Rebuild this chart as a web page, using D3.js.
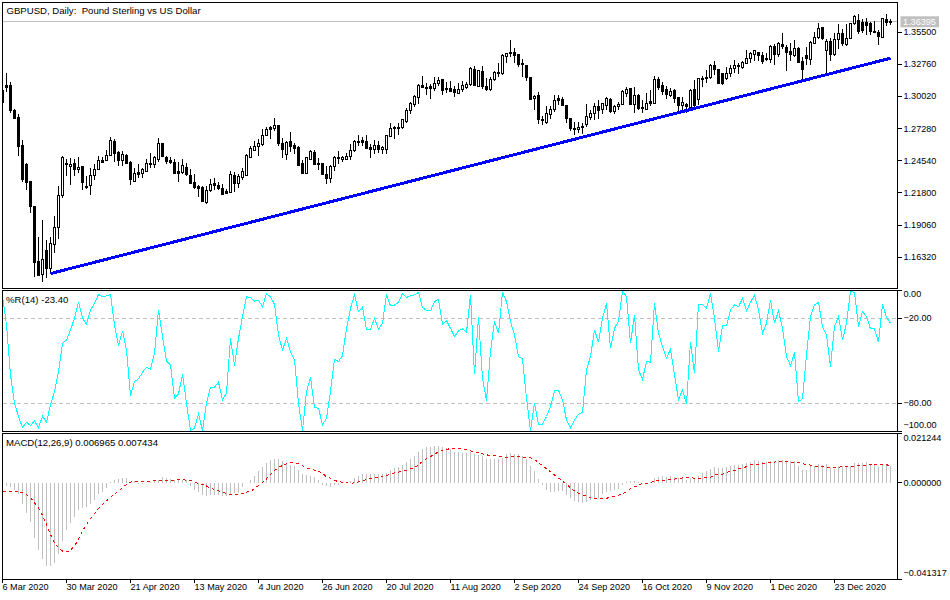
<!DOCTYPE html>
<html>
<head>
<meta charset="utf-8">
<script src="https://cdn.jsdelivr.net/npm/d3@7"></script>
<style>
	html, body { margin: 0; padding: 0; background: #fff; }
	text { font-family: "Liberation Sans", sans-serif; font-size: 9.6px; fill: #000; }
	.axis text { font-size: 9.1px; }
</style>
</head>
<body>
<div id="chart"></div>
<script>
const opens = [1.3053,1.3093,1.3093,1.2883,1.2826,1.2582,1.2420,1.2275,1.2060,1.1594,
	1.1480,1.1685,1.1537,1.1741,1.1889,1.2162,1.2429,1.2409,1.2432,1.2380,
	1.2403,1.2238,1.2241,1.2332,1.2383,1.2454,1.2457,1.2503,1.2616,1.2522,
	1.2457,1.2497,1.2437,1.2281,1.2352,1.2349,1.2366,1.2434,1.2423,1.2463,
	1.2599,1.2485,1.2454,1.2440,1.2361,1.2355,1.2400,1.2332,1.2270,1.2233,
	1.2230,1.2094,1.2202,1.2258,1.2247,1.2221,1.2190,1.2184,1.2332,1.2258,
	1.2315,1.2329,1.2485,1.2545,1.2576,1.2591,1.2673,1.2735,1.2730,1.2752,
	1.2605,1.2508,1.2616,1.2582,1.2565,1.2432,1.2343,1.2463,1.2522,1.2429,
	1.2428,1.2335,1.2306,1.2408,1.2479,1.2468,1.2468,1.2491,1.2542,1.2616,
	1.2624,1.2621,1.2565,1.2553,1.2587,1.2553,1.2553,1.2661,1.2741,1.2741,
	1.2741,1.2786,1.2886,1.2934,1.2996,1.3099,1.3082,1.3084,1.3070,1.3116,
	1.3144,1.3073,1.3070,1.3059,1.3030,1.3064,1.3079,1.3101,1.3235,1.3087,
	1.3218,1.3084,1.3062,1.3144,1.3209,1.3201,1.3343,1.3380,1.3380,1.3357,
	1.3280,1.3263,1.3167,1.2985,1.3008,1.2809,1.2778,1.2851,1.2891,1.2982,
	1.2979,1.2928,1.2815,1.2732,1.2721,1.2749,1.2761,1.2826,1.2860,1.2920,
	1.2888,1.2925,1.2979,1.2874,1.2917,1.2934,1.3028,1.3067,1.2934,1.3013,
	1.2912,1.2894,1.2957,1.2946,1.3150,1.3093,1.3059,1.3008,1.3053,1.2991,
	1.2923,1.2934,1.2912,1.3059,1.2980,1.3150,1.3167,1.3164,1.3269,1.3230,
	1.3196,1.3156,1.3196,1.3241,1.3269,1.3252,1.3286,1.3326,1.3360,1.3377,
	1.3355,1.3326,1.3320,1.3428,1.3357,1.3443,1.3417,1.3386,1.3355,1.3409,
	1.3301,1.3349,1.3320,1.3457,1.3502,1.3587,1.3394,1.3468,1.3357,1.3485,
	1.3542,1.3443,1.3497,1.3627,1.3650,1.3633,1.3633,1.3622,1.3559,1.3545,
	1.3508,1.3661,1.3641];
const highs = [1.3059,1.3201,1.3122,1.2894,1.2855,1.2633,1.2434,1.2281,1.2065,1.1804,
	1.1946,1.1781,1.1804,1.1986,1.2241,1.2497,1.2468,1.2477,1.2468,1.2485,
	1.2412,1.2326,1.2389,1.2429,1.2491,1.2485,1.2548,1.2656,1.2639,1.2534,
	1.2534,1.2508,1.2449,1.2395,1.2429,1.2392,1.2468,1.2520,1.2497,1.2650,
	1.2605,1.2497,1.2485,1.2468,1.2440,1.2468,1.2434,1.2383,1.2343,1.2247,
	1.2241,1.2236,1.2298,1.2304,1.2270,1.2258,1.2213,1.2366,1.2355,1.2338,
	1.2395,1.2514,1.2582,1.2622,1.2639,1.2724,1.2741,1.2747,1.2821,1.2758,
	1.2647,1.2622,1.2696,1.2605,1.2576,1.2463,1.2485,1.2542,1.2548,1.2474,
	1.2437,1.2406,1.2414,1.2494,1.2536,1.2499,1.2519,1.2599,1.2633,1.2673,
	1.2661,1.2673,1.2599,1.2633,1.2627,1.2582,1.2667,1.2775,1.2752,1.2775,
	1.2809,1.2900,1.2957,1.3016,1.3110,1.3178,1.3116,1.3110,1.3167,1.3172,
	1.3150,1.3130,1.3133,1.3093,1.3121,1.3138,1.3127,1.3258,1.3263,1.3229,
	1.3263,1.3158,1.3167,1.3218,1.3286,1.3366,1.3377,1.3485,1.3414,1.3366,
	1.3326,1.3275,1.3172,1.3016,1.3042,1.2832,1.2922,1.2922,1.3013,1.3013,
	1.3002,1.2931,1.2820,1.2786,1.2786,1.2780,1.2940,1.2883,1.2951,1.2974,
	1.2951,1.3002,1.2988,1.2934,1.2957,1.3059,1.3087,1.3076,1.3081,1.3025,
	1.2974,1.3031,1.3059,1.3178,1.3167,1.3122,1.3088,1.3071,1.3065,1.2997,
	1.2997,1.2946,1.3065,1.3144,1.3159,1.3173,1.3230,1.3281,1.3309,1.3235,
	1.3201,1.3258,1.3275,1.3315,1.3292,1.3309,1.3400,1.3386,1.3400,1.3386,
	1.3386,1.3377,1.3443,1.3451,1.3471,1.3548,1.3443,1.3457,1.3485,1.3428,
	1.3337,1.3428,1.3474,1.3556,1.3633,1.3593,1.3491,1.3499,1.3542,1.3622,
	1.3576,1.3622,1.3633,1.3698,1.3707,1.3667,1.3670,1.3641,1.3650,1.3570,
	1.3670,1.3707,1.3661];
const lows = [1.2951,1.3037,1.2860,1.2809,1.2491,1.2270,1.2207,1.2008,1.1463,1.1474,
	1.1418,1.1455,1.1497,1.1668,1.1787,1.2133,1.2321,1.2247,1.2326,1.2349,
	1.2207,1.2213,1.2165,1.2292,1.2378,1.2434,1.2449,1.2497,1.2440,1.2412,
	1.2412,1.2429,1.2250,1.2278,1.2304,1.2304,1.2361,1.2395,1.2392,1.2440,
	1.2485,1.2429,1.2429,1.2338,1.2270,1.2343,1.2321,1.2253,1.2213,1.2145,
	1.2105,1.2082,1.2190,1.2202,1.2207,1.2162,1.2167,1.2184,1.2184,1.2224,
	1.2292,1.2326,1.2485,1.2537,1.2497,1.2576,1.2662,1.2639,1.2707,1.2582,
	1.2474,1.2457,1.2531,1.2514,1.2406,1.2343,1.2338,1.2457,1.2415,1.2378,
	1.2329,1.2255,1.2261,1.2363,1.2425,1.2443,1.2462,1.2462,1.2531,1.2576,
	1.2576,1.2559,1.2479,1.2514,1.2519,1.2514,1.2514,1.2656,1.2644,1.2675,
	1.2729,1.2780,1.2849,1.2911,1.2940,1.3073,1.3013,1.2985,1.3053,1.3093,
	1.3013,1.3030,1.3042,1.3002,1.3025,1.3042,1.3070,1.3093,1.3093,1.3082,
	1.3064,1.3053,1.3053,1.3133,1.3167,1.3184,1.3292,1.3343,1.3286,1.3258,
	1.3167,1.3138,1.2979,1.2883,1.2769,1.2763,1.2769,1.2809,1.2866,1.2928,
	1.2917,1.2775,1.2707,1.2678,1.2690,1.2684,1.2741,1.2803,1.2798,1.2809,
	1.2854,1.2888,1.2860,1.2854,1.2888,1.2934,1.3002,1.2928,1.2860,1.2888,
	1.2860,1.2889,1.2917,1.2940,1.3059,1.3017,1.2985,1.2997,1.2946,1.2875,
	1.2889,1.2860,1.2889,1.2912,1.2931,1.3082,1.3116,1.3150,1.3187,1.3105,
	1.3102,1.3144,1.3167,1.3201,1.3196,1.3235,1.3281,1.3292,1.3301,1.3309,
	1.3281,1.3301,1.3286,1.3272,1.3343,1.3406,1.3224,1.3301,1.3343,1.3286,
	1.3150,1.3272,1.3272,1.3451,1.3491,1.3480,1.3196,1.3301,1.3349,1.3406,
	1.3434,1.3434,1.3491,1.3613,1.3536,1.3542,1.3531,1.3531,1.3542,1.3445,
	1.3505,1.3604,1.3610];
const closes = [1.2951,1.3079,1.2883,1.2815,1.2576,1.2292,1.2270,1.2060,1.1588,1.1474,
	1.1611,1.1537,1.1747,1.1889,1.2162,1.2480,1.2423,1.2426,1.2380,1.2400,
	1.2270,1.2224,1.2332,1.2383,1.2460,1.2440,1.2503,1.2630,1.2517,1.2457,
	1.2511,1.2429,1.2292,1.2343,1.2338,1.2378,1.2434,1.2423,1.2480,1.2599,
	1.2491,1.2451,1.2440,1.2343,1.2349,1.2417,1.2338,1.2261,1.2224,1.2219,
	1.2105,1.2204,1.2255,1.2241,1.2219,1.2167,1.2176,1.2341,1.2258,1.2321,
	1.2361,1.2497,1.2556,1.2579,1.2599,1.2673,1.2724,1.2724,1.2752,1.2599,
	1.2548,1.2608,1.2574,1.2559,1.2417,1.2349,1.2480,1.2531,1.2423,1.2420,
	1.2335,1.2306,1.2408,1.2479,1.2474,1.2485,1.2494,1.2545,1.2616,1.2610,
	1.2613,1.2559,1.2553,1.2587,1.2553,1.2570,1.2667,1.2732,1.2729,1.2732,
	1.2803,1.2886,1.2940,1.2999,1.3099,1.3082,1.3073,1.3073,1.3116,1.3141,
	1.3053,1.3062,1.3047,1.3036,1.3064,1.3093,1.3107,1.3243,1.3099,1.3221,
	1.3087,1.3064,1.3150,1.3209,1.3198,1.3354,1.3371,1.3366,1.3354,1.3275,
	1.3275,1.3161,1.2979,1.3005,1.2803,1.2798,1.2854,1.2894,1.2971,1.2968,
	1.2925,1.2815,1.2729,1.2721,1.2741,1.2738,1.2834,1.2860,1.2920,1.2883,
	1.2940,1.2982,1.2871,1.2920,1.2937,1.3047,1.3064,1.2934,1.3013,1.2900,
	1.2900,1.2946,1.2946,1.3150,1.3082,1.3045,1.3019,1.3048,1.2985,1.2923,
	1.2954,1.2917,1.3053,1.2929,1.3153,1.3156,1.3156,1.3269,1.3230,1.3110,
	1.3110,1.3201,1.3244,1.3269,1.3258,1.3292,1.3329,1.3366,1.3391,1.3349,
	1.3303,1.3315,1.3428,1.3357,1.3457,1.3428,1.3377,1.3357,1.3411,1.3292,
	1.3230,1.3326,1.3462,1.3508,1.3585,1.3499,1.3468,1.3360,1.3491,1.3536,
	1.3451,1.3499,1.3627,1.3684,1.3559,1.3565,1.3607,1.3553,1.3553,1.3514,
	1.3664,1.3633,1.36395];

const williamsR = [-4.7,-24.7,-60,-80,-89.4,-97.2,-93.4,-95.8,-92.5,-97.2,
	-89.2,-93.4,-81.2,-71.8,-57.6,-37.6,-35.3,-28.2,-20,-8.7,
	-20,-24.2,-14.1,-9.4,-3.1,-4.9,-4.2,-3.1,-24.7,-39.5,
	-28.9,-42.4,-74.6,-64.7,-62.8,-58.1,-54.6,-56,-44.7,-14.1,
	-32.9,-50.1,-52.9,-76.5,-73.6,-59.5,-80,-99.3,-97.6,-87.8,
	-99.3,-80,-68.9,-68.7,-65.2,-77.6,-72.9,-34.1,-53.4,-34.1,
	-18.8,-4.7,-5.4,-7.8,-7.3,-11.8,-2.4,-4.9,-10.1,-31.8,
	-42.4,-34.1,-43.5,-49.4,-80,-99.3,-71.8,-61.9,-83.1,-83.5,
	-95.3,-90.6,-71.8,-48.9,-50.6,-46.4,-27.1,-12.9,-3.5,-15.3,
	-12.2,-27.8,-27.8,-20,-27.8,-23.5,-3.1,-11.3,-10.6,-8.7,
	-2.4,-5.2,-4.2,-3.5,-1.6,-12.5,-14.4,-14.8,-8.2,-6.6,
	-24.2,-21.6,-27.1,-32.9,-28.9,-27.5,-29.9,-3.5,-59.5,-19.3,
	-62.4,-78.1,-43.5,-21.9,-30.6,-1.6,-8.2,-22.4,-31.8,-47.1,
	-48.7,-76.5,-99.3,-80,-95.3,-94.8,-89.4,-82.4,-71.3,-70.8,
	-77.6,-91.8,-97.2,-91.8,-87.8,-86.4,-56.5,-47.1,-28.2,-36.9,
	-20,-9.4,-41.2,-27.1,-21.9,-0.7,-4.7,-37.6,-17.6,-56.5,
	-63.1,-50.6,-51.1,-9.4,-30.6,-40,-48.2,-41.9,-60,-77.6,
	-70.6,-80.5,-36.9,-58.8,-9.9,-10.1,-12.9,-2.4,-20,-43.5,
	-25.2,-25.2,-14.1,-10.6,-11.8,-5.9,-14.8,-8.7,-3.5,-14.1,
	-30.6,-23.5,-7.1,-23.5,-14.8,-27.1,-47.1,-53.4,-44.2,-78.8,
	-76.9,-45.9,-18.8,-10.6,-8.7,-25.9,-31.8,-54.1,-25.9,-18.8,
	-35.3,-23.5,-1.2,-1.6,-25.9,-15.3,-18.8,-27.5,-27.5,-36.9,
	-10.1,-19.3,-23.4];
const macdHist = [-.0010,-.0014,-.0017,-.0029,-.0050,-.0093,-.0129,-.0169,-.0239,-.0290,
	-.0329,-.0358,-.0358,-.0346,-.0307,-.0250,-.0203,-.0172,-.0146,-.0117,
	-.0107,-.0103,-.0089,-.0072,-.0050,-.0040,-.0021,.0003,.0014,.0017,
	.0021,.0021,.0003,.0007,-.0004,-.0004,-.0003,.0003,.0011,.0014,
	.0026,.0020,.0017,.0014,.0014,.0014,.0011,-.0014,-.0031,-.0040,
	-.0054,-.0057,-.0054,-.0054,-.0054,-.0057,-.0057,-.0050,-.0046,-.0043,
	-.0017,-.0003,.0014,.0031,.0049,.0066,.0086,.0097,.0104,.0100,
	.0093,.0086,.0077,.0072,.0057,.0039,.0034,.0031,.0024,.0014,
	-.0010,-.0014,-.0019,-.0011,-.0009,-.0003,0,.0009,.0019,.0027,
	.0037,.0037,.0037,.0037,.0036,.0036,.0043,.0054,.0063,.0067,
	.0076,.0089,.0103,.0114,.0132,.0146,.0152,.0152,.0157,.0160,
	.0154,.0149,.0146,.0134,.0132,.0126,.0129,.0132,.0123,.0120,
	.0114,.0100,.0100,.0100,.0100,.0107,.0122,.0126,.0123,.0123,
	.0117,.0100,.0072,.0049,.0017,-.0011,-.0031,-.0040,-.0040,-.0037,
	-.0036,-.0054,-.0066,-.0080,-.0083,-.0086,-.0083,-.0074,-.0069,-.0064,
	-.0050,-.0040,-.0037,-.0031,-.0026,-.0011,.0003,.0006,.0007,.0004,
	0,0,.0003,.0019,.0026,.0031,.0026,.0031,.0026,.0021,
	.0019,.0014,.0019,.0017,.0029,.0040,.0049,.0060,.0067,.0063,
	.0063,.0069,.0072,.0076,.0077,.0082,.0086,.0090,.0097,.0094,
	.0090,.0089,.0092,.0092,.0097,.0096,.0092,.0092,.0092,.0074,
	.0054,.0057,.0074,.0074,.0080,.0077,.0080,.0063,.0060,.0072,
	.0072,.0069,.0072,.0086,.0086,.0086,.0089,.0080,.0080,.0069,
	.0077,.0079,.0070];
const macdSignal = [-.0036,-.0036,-.0036,-.0036,-.0036,-.0043,-.0051,-.0064,-.0086,-.0109,
	-.0140,-.0179,-.0222,-.0257,-.0279,-.0293,-.0297,-.0289,-.0272,-.0243,
	-.0207,-.0179,-.0154,-.0132,-.0110,-.0093,-.0077,-.0063,-.0049,-.0034,
	-.0021,-.0007,.0003,.0006,.0007,.0007,.0007,.0007,.0009,.0010,
	.0010,.0011,.0011,.0011,.0013,.0013,.0011,.0009,.0004,-.0003,
	-.0007,-.0014,-.0023,-.0029,-.0034,-.0040,-.0047,-.0051,-.0051,-.0051,
	-.0047,-.0040,-.0037,-.0026,-.0011,0,.0017,.0036,.0053,.0066,
	.0074,.0082,.0086,.0086,.0083,.0074,.0064,.0060,.0054,.0049,
	.0041,.0026,.0020,.0011,.0004,.0003,0,-.0003,0,.0004,
	.0007,.0014,.0019,.0020,.0024,.0029,.0031,.0037,.0043,.0046,
	.0051,.0054,.0060,.0066,.0077,.0092,.0103,.0112,.0123,.0133,
	.0139,.0143,.0147,.0149,.0147,.0146,.0143,.0137,.0134,.0129,
	.0124,.0120,.0117,.0116,.0114,.0112,.0110,.0112,.0112,.0112,
	.0110,.0109,.0107,.0100,.0086,.0074,.0060,.0047,.0033,.0021,
	.0007,-.0007,-.0021,-.0036,-.0046,-.0053,-.0057,-.0063,-.0066,-.0067,
	-.0069,-.0067,-.0061,-.0059,-.0054,-.0047,-.0040,-.0026,-.0017,-.0011,
	-.0003,-.0003,0,.0007,.0009,.0009,.0014,.0014,.0016,.0017,
	.0021,.0021,.0021,.0020,.0017,.0019,.0023,.0024,.0033,.0036,
	.0037,.0043,.0050,.0053,.0060,.0064,.0069,.0077,.0080,.0080,
	.0083,.0086,.0087,.0089,.0092,.0092,.0090,.0089,.0089,.0086,
	.0082,.0079,.0076,.0070,.0069,.0069,.0067,.0064,.0064,.0067,
	.0069,.0069,.0069,.0072,.0074,.0074,.0076,.0079,.0077,.0079,
	.0077,.0077,.0074];

const trendIndex = [12, 222];
const trendPrice = [1.1492, 1.3329];
const lastPrice = 1.36395;

const priceTicks = [1.355, 1.3276, 1.3002, 1.2728, 1.2454, 1.218, 1.1906, 1.1632];
const rTicks = [0, -20, -80, -100];
const rLevels = [-20, -80];
const macdTicks = [0.021244, 0, -0.041317];
const dateTicks = [0, 16, 32, 48, 64, 80, 96, 112, 128, 144, 160, 176, 192, 208];
const dateLabels = ["6 Mar 2020", "30 Mar 2020", "21 Apr 2020", "13 May 2020", "4 Jun 2020", "26 Jun 2020", "20 Jul 2020",
	"11 Aug 2020", "2 Sep 2020", "24 Sep 2020", "16 Oct 2020", "9 Nov 2020", "1 Dec 2020", "23 Dec 2020"];

const w = 950, h = 600;
const left = 2.5, right = 897.5;

const svg = d3.select("#chart")
	.append("svg")
	.attr("width", w)
	.attr("height", h)
	.style("display", "block");

var xScale = d3.scaleLinear()
	.domain([0, opens.length - 1])
	.range([2.5, 890.5]);

var yPrice = d3.scaleLinear()
	.domain([1.1369, 1.3804])
	.range([288, 2.5]);

var yR = d3.scaleLinear()
	.domain([-100, 0])
	.range([431.5, 290]);

var yMacd = d3.scaleLinear()
	.domain([-0.041317, 0.021244])
	.range([579, 433.3]);

// last price line sits under the candles
svg.append("line")
	.attr("x1", left).attr("x2", right)
	.attr("y1", yPrice(lastPrice)).attr("y2", yPrice(lastPrice))
	.attr("stroke", "#c0c0c0")
	.attr("shape-rendering", "crispEdges");

svg.append("clipPath").attr("id", "mainClip")
	.append("rect")
	.attr("x", left).attr("y", 2.5)
	.attr("width", right - left).attr("height", 285.5);

const candles = svg.append("g")
	.attr("clip-path", "url(#mainClip)")
	.attr("shape-rendering", "crispEdges")
	.selectAll("g")
	.data(opens)
	.join("g");

candles.append("line")
	.attr("x1", (d, i) => xScale(i))
	.attr("x2", (d, i) => xScale(i))
	.attr("y1", (d, i) => yPrice(highs[i]))
	.attr("y2", (d, i) => yPrice(lows[i]))
	.attr("stroke", "#000");

candles.append("rect")
	.attr("x", (d, i) => xScale(i) - 1)
	.attr("width", 2)
	.attr("y", (d, i) => yPrice(Math.max(d, closes[i])))
	.attr("height", (d, i) => Math.max(1, Math.abs(yPrice(d) - yPrice(closes[i]))))
	.attr("fill", (d, i) => closes[i] > d ? "#fff" : "#000")
	.attr("stroke", "#000");

svg.append("path")
	.datum(trendIndex)
	.attr("fill", "none")
	.attr("stroke", "#0000ff")
	.attr("stroke-width", 3)
	.attr("shape-rendering", "crispEdges")
	.attr("d", d3.line()
		.x(d => xScale(d))
		.y((d, i) => yPrice(trendPrice[i])));

// %R pane
svg.append("g")
	.selectAll("line")
	.data(rLevels)
	.join("line")
	.attr("x1", left).attr("x2", right)
	.attr("y1", d => yR(d)).attr("y2", d => yR(d))
	.attr("stroke", "#c0c0c0")
	.attr("stroke-dasharray", "4,3")
	.attr("shape-rendering", "crispEdges");

svg.append("path")
	.datum(williamsR)
	.attr("fill", "none")
	.attr("stroke", "#00ffff")
	.attr("stroke-width", 1)
	.attr("shape-rendering", "crispEdges")
	.attr("d", d3.line()
		.x((d, i) => xScale(i))
		.y(d => yR(d)));

// MACD pane
svg.append("g")
	.attr("shape-rendering", "crispEdges")
	.selectAll("line")
	.data(macdHist)
	.join("line")
	.attr("x1", (d, i) => xScale(i))
	.attr("x2", (d, i) => xScale(i))
	.attr("y1", yMacd(0))
	.attr("y2", d => yMacd(d))
	.attr("stroke", "#c0c0c0");

svg.append("path")
	.datum(macdSignal)
	.attr("fill", "none")
	.attr("stroke", "#ff0000")
	.attr("stroke-width", 1)
	.attr("stroke-dasharray", "3,3")
	.attr("shape-rendering", "crispEdges")
	.attr("d", d3.line()
		.x((d, i) => xScale(i))
		.y(d => yMacd(d)));

// pane borders
[[2.5, 288], [290, 431], [433.3, 579]].forEach(function(p) {
	svg.append("rect")
		.attr("x", left).attr("y", p[0])
		.attr("width", right - left).attr("height", p[1] - p[0])
		.attr("fill", "none")
		.attr("stroke", "#000")
		.attr("shape-rendering", "crispEdges");
});

// axes
function rightAxis(scale, ticks, fmt) {
	const g = svg.append("g")
		.attr("class", "axis")
		.attr("transform", "translate(" + right + ",0)")
		.call(d3.axisRight(scale).tickValues(ticks).tickFormat(fmt).tickSize(4).tickPadding(2).offset(0));
	g.select(".domain").remove();
	g.selectAll("line").attr("shape-rendering", "crispEdges");
	g.attr("font-family", null).attr("font-size", null);
	return g;
}

rightAxis(yPrice, priceTicks, d3.format(".5f"));

const rAxis = rightAxis(yR, rTicks, d3.format(".2f"));
rAxis.selectAll("text").filter(d => d === 0).attr("y", 4);
rAxis.selectAll("text").filter(d => d === -100).attr("y", -6);

const macdAxis = rightAxis(yMacd, macdTicks, d3.format(".6f"));
macdAxis.selectAll("text").filter(d => d > 0).attr("y", 5);
macdAxis.selectAll("text").filter(d => d < 0).attr("y", -5.5);

const dateAxis = svg.append("g")
	.attr("class", "axis")
	.attr("transform", "translate(0,579)")
	.call(d3.axisBottom(xScale).tickValues(dateTicks).tickFormat((d, i) => dateLabels[i]).tickSize(4).tickPadding(1).offset(0));
dateAxis.select(".domain").remove();
dateAxis.selectAll("line").attr("shape-rendering", "crispEdges");
dateAxis.attr("font-family", null).attr("font-size", null);
dateAxis.selectAll("text").attr("text-anchor", "start");

// last price tag
svg.append("rect")
	.attr("x", 900.5).attr("y", yPrice(lastPrice) - 5.5)
	.attr("width", 38.5).attr("height", 11)
	.attr("fill", "#c0c0c0");
svg.append("text")
	.attr("x", 903).attr("y", yPrice(lastPrice))
	.attr("dy", ".35em")
	.style("fill", "#fff")
	.style("font-size", "9.1px")
	.text(d3.format(".5f")(lastPrice));

// pane captions
svg.append("text").attr("x", 6.5).attr("y", 13.5).text("GBPUSD, Daily:  Pound Sterling vs US Dollar").attr("xml:space", "preserve");
svg.append("text").attr("x", 6).attr("y", 302.5).text("%R(14) -23.40");
svg.append("text").attr("x", 6).attr("y", 446).text("MACD(12,26,9) 0.006965 0.007434");
</script>
</body>
</html>
